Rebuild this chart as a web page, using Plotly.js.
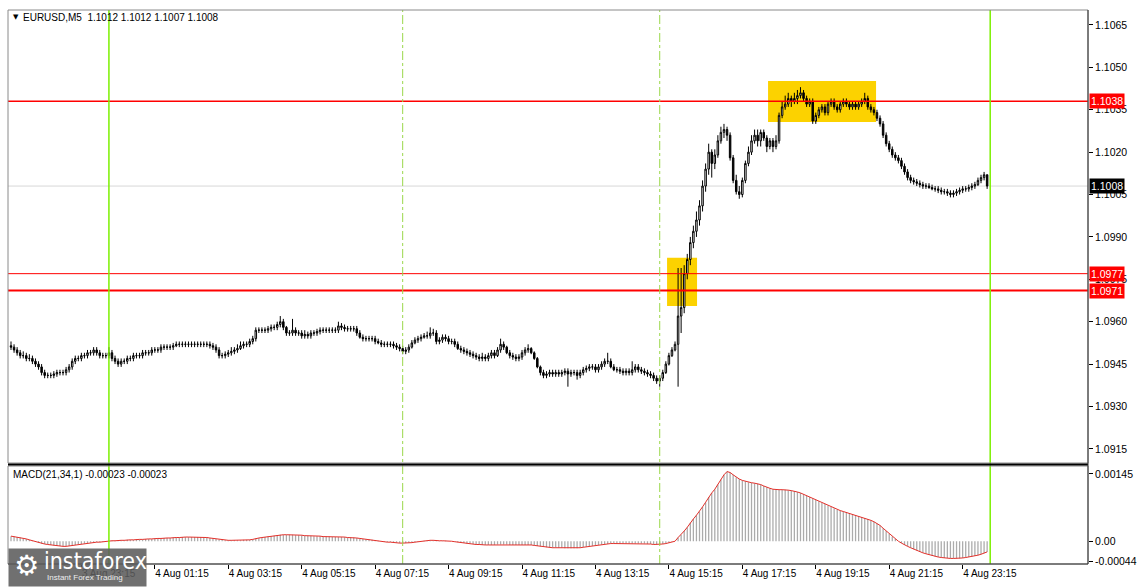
<!DOCTYPE html>
<html><head><meta charset="utf-8">
<script src="https://cdn.plot.ly/plotly-3.0.1.min.js"></script>
<style>html,body{margin:0;padding:0;background:#fff;overflow:hidden}#chart{width:1141px;height:587px}</style>
</head><body><div id="chart"></div>
<script>
// Prices stored as pips above BASE (1.0900); one bar = 5 minutes, bar 0 = 3 Aug 21:20
const BASE = 1.09;
const openP = [
51.5,51,50,49,48,48,47,47,46,45,
44,42,41,41,41,41.5,42,42,42,43,
44,46,47,47,48,48,49,49,50,49,
48,48,48,49,47,46,45,46,46,47,
47,48,48,48,49,49,49,50,50,50,
51,51,51,51,51.5,52,52,52,52,52,
52,52,52,52,52,52,51.5,51,50,48,
48,48.5,49,49.5,50,50.5,51.5,52,52,53,
54,57,57,57,57,57.5,58,58,59,60,
58,56,56,57,56,56,55,55.5,55,56,
56,56.5,57,57,57,57,57,57,58.5,58,
57.5,57.5,57.5,57.5,56,54.5,54,54,54,54,
53,52.5,52,52,52,52,51.5,51,50.5,49.5,
50,51,52.5,53.5,54,54.5,55,55,56,56,
53,53.5,54.5,54,53,53,52,50.5,50,49.5,
49,48.5,48,47.5,47,47.5,47,48,49,48,
50,52,51,49,48,47.5,47,47.5,49,50,
50.5,49,47,44,42,41,41.5,42,41.5,42,
41.5,42,42.5,41.5,42,42,41,42,43,43.5,
44,44,43,44,45,46,46,44,43,43,
42.5,42,42.5,42,43,44,43,42.5,42,41.5,
41,40,39,40,42,45,48,50,52,62,
65,77,82,88,92,96,101,108,114,120,
116,119,124,127,128,126,118,110,106,105,
110,116,120,124,126,124,127,125,122,124,
122,124,133,136,137,139,138,139,140,141,
139,137,138,131,133,135,136,134,137,138,
136,135,137,138,137,136,137,136,137,138,
139,136,135,134,132,130,126,123,121,119,
118,117,115,113,111,110,109.5,109,108.5,108,
108,107.5,107,107,106.5,106,106,105.5,105,105.5,
106,106.5,107,107,107.5,108,108.5,110,111,112
];
const highP = [
53,52,51,50,49.5,49,48.5,48,47,46,
45,43,42,42,42.5,43,43,43,44,45,
47,48,48,49,49,50,50,51,51,50,
49,49,51,50,48,47,47,47,48,48,
49,49,49,50,50,50,51,51,51,52,
52,52,52,52.5,53,53,53,53,53,53,
53,53,53,53,53,53,52.5,52,51,49,
49.5,50,51,51,52,53,53,53,54,55,
58,58,58,58,58.5,59,59,60,62,61,
58.5,57,61,58,57,57,57,56.5,57,57,
57.5,58,58,58,58,58,58,60,59.5,59,
58.5,58.5,58.5,58.5,57,55.5,55,55,55,55,
54,53.5,53,53,53,53,52.5,52,51.5,51,
52,53.5,54.5,55,55.5,56,56.5,58,57.5,57,
54.5,55.5,55.5,55,54,54,53,51.5,51,50.5,
50,49.5,49,48.5,49,48.5,49,50,50,51,
54,53,51.5,50,49,48.5,48.5,50,51,52,
51,49.5,47.5,44.5,43,42.5,43,43,43,43,
43,43.5,43.5,43,43,43,43,44,44.5,45,
45,45,45,46,47,49,47,45,44,44,
43.5,43.5,43.5,46,45,45,44,43.5,43,42.5,
42,41,41,43,46,49,51,53,79,79,
80,84,90,94,99,103,110,116,123,121,
121,126,129,130,129,127,119,112,108,111,
117,122,126,128,128,128,128,126,125,125,
126,134,138,140,141,140,141,142,143,142,
140,139,139,134,136,137,137,138,139,139,
137,138,139,139,138,138,138,138,139,141,
140,137,136,135,133,131,127,124,122,120,
119,118,116,114,112,111,110.5,110,109.5,109,
109,108.5,108,108,107.5,107,107,106.5,106.5,107,
107.5,108,108,108.5,109,109.5,111,112,113,112
];
const lowP = [
50,49,48,47,47,46,46,45,44,43,
41,40,40,40,40,40.5,41,41,41,42,
43,45,46,46,47,47,48,48,48,47,
47,47,47,46,45,44,44,45,45,46,
46,47,47,47,48,48,48,49,49,49,
50,50,50,50,51,51,51,51,51,51,
51,51,51,51,51,50.5,50,49,47,47,
47,47.5,48,48.5,49,50,50.5,51,51,52,
53,56,56,56,56,56.5,57,57,58,57,
55,55,55,55,55,54,54,54,54,55,
55,55.5,56,56,56,56,56,56,57,56.5,
56.5,56.5,56.5,55,54,53,53,53,53,52,
52,51,51,51,51,50.5,50,49.5,48.5,48.5,
49,50.5,52,52.5,53,54,54,54,55,52,
52,52.5,53,52,52,51,50,49,48.5,48,
47.5,47,46.5,46,46,46,46,47,47,47.5,
49,50,48.5,47,46.5,46,46,46.5,48,49,
48.5,46.5,43.5,41,40,40,40.5,40.5,40.5,40.5,
40.5,41,37,40.5,41,39.5,40,41,42,42.5,
43,42,42,43,44,45,43.5,42.5,42,41.5,
41,41,41,41,42,42,41.5,41,40.5,40,
39,38,37,39,41.5,44.5,47.5,49.5,37,56,
63,75,80,86,90,94,99,106,112,111,
114,118,123,125,124,117,109,105,103.5,104,
109,115,119,123,122,122,124,120,121,120,
121,123,132,135,136,136,137,137,139,138,
136,136,130,130,132,134,133,133,136,135,
134,134,136,136,135,135,135,135,136,137,
135,134,133,131,129,125,122,120,118,117,
116,114,112,110,109,108.5,108,107.5,107,107,
107,106.5,106,105.5,105,105,104.5,104,104,104.5,
105,105.5,106,106,106.5,107,108,109,110,107
];
const closeP = [
51,50,49,48,48,47,47,46,45,44,
42,41,41,41,41.5,42,42,42,43,44,
46,47,47,48,48,49,49,50,49,48,
48,48,49,47,46,45,46,46,47,47,
48,48,48,49,49,49,50,50,50,51,
51,51,51,51.5,52,52,52,52,52,52,
52,52,52,52,52,51.5,51,50,48,48,
48.5,49,49.5,50,50.5,51.5,52,52,53,54,
57,57,57,57,57.5,58,58,59,60,58,
56,56,57,56,56,55,55.5,55,56,56,
56.5,57,57,57,57,57,57,58.5,58,57.5,
57.5,57.5,57.5,56,54.5,54,54,54,54,53,
52.5,52,52,52,52,51.5,51,50.5,49.5,50,
51,52.5,53.5,54,54.5,55,55,56,56,53,
53.5,54.5,54,53,53,52,50.5,50,49.5,49,
48.5,48,47.5,47,47.5,47,48,49,48,50,
52,51,49,48,47.5,47,47.5,49,50,50.5,
49,47,44,42,41,41.5,42,41.5,42,41.5,
42,42.5,41.5,42,42,41,42,43,43.5,44,
44,43,44,45,46,46,44,43,43,42.5,
42,42.5,42,43,44,43,42.5,42,41.5,41,
40,39,40,42,45,48,50,52,62,65,
77,82,88,92,96,101,108,114,120,116,
119,124,127,128,126,118,110,106,105,110,
116,120,124,126,124,127,125,122,124,122,
124,133,136,137,139,138,139,140,141,139,
137,138,131,133,135,136,134,137,138,136,
135,137,138,137,136,137,136,137,138,139,
136,135,134,132,130,126,123,121,119,118,
117,115,113,111,110,109.5,109,108.5,108,108,
107.5,107,107,106.5,106,106,105.5,105,105.5,106,
106.5,107,107,107.5,108,108.5,110,111,112,108
];
// MACD(21,34,1) main values in units of 0.00001 (signal = SMA(1) = same values)
const macdU = [
11,10,9,8,6,5,3,1,
-1,-3,-5,-6,-7,-8,-9,-10,-10,-11,-11,
-10,-9,-8,-7,-6,-5,-4,-3,-3,-2,-2,
-1,0,1,1,1,2,2,2,3,3,3,
4,4,4,5,5,5,6,6,6,7,7,7,8,8,8,9,9,9,9,
9,9,9,8,8,7,6,5,4,3,2,2,2,
2,2,2,3,3,3,4,
6,7,8,9,10,11,12,13,14,14,14,
14,14,13,13,13,12,12,12,11,11,11,10,10,10,9,
9,9,9,9,8,8,8,7,6,5,4,
4,3,2,1,0,-1,-2,-2,-3,-3,-4,-4,
-4,-3,-3,-2,-1,0,1,1,2,2,1,1,
1,1,0,0,-1,-2,-3,-4,-5,-5,-6,-7,-7,-8,-8,
-8,-8,-8,-7,-7,-7,-7,-8,-8,-8,-8,-8,-8,-8,-8,-9,
-10,-11,-12,-13,-13,-14,-14,-14,-14,-15,-15,-15,-15,-15,-14,
-13,-12,-11,-10,-9,-8,-7,-6,-6,
-5,-5,-5,-5,-5,-5,-5,-5,-5,-5,-5,-5,-6,-6,-7,-7,
-7,-6,-5,-3,-1,0,
8,14,22,30,40,48,56,64,74,84,95,104,112,
122,133,143,150,148,143,138,134,
131,129,127,126,125,124,122,119,116,114,112,111,
111,111,111,110,109,108,106,104,101,98,
95,92,89,86,83,80,77,74,71,68,66,64,
62,60,58,56,54,52,50,48,45,42,38,34,
28,22,16,10,5,0,-4,-8,-11,-14,
-17,-20,-23,-25,-27,-29,-31,-33,-34,-35,-36,-36,-37,
-37,-37,-37,-36,-35,-34,-33,-32,-30,-28,-26,-23
];
const timeTickBars = [23,47,71,95,119,143,167,191,215,239,263,287,311];
const timeTickLabels = ['3 Aug 23:15','4 Aug 01:15','4 Aug 03:15','4 Aug 05:15','4 Aug 07:15','4 Aug 09:15','4 Aug 11:15','4 Aug 13:15','4 Aug 15:15','4 Aug 17:15','4 Aug 19:15','4 Aug 21:15','4 Aug 23:15'];
const priceTicks = [1.0915,1.0930,1.0945,1.0960,1.0975,1.0990,1.1005,1.1020,1.1035,1.1050,1.1065];
const macdTicks = [0.00145,0,-0.00044];
const macdTickLabels = ['0.00145','0.00','-0.00044'];
const redLevels = [1.1038,1.0977,1.0971];
const redLevelWidths = [1.5,1,2];
const bidLevel = 1.1008;
const daySeparators = [32,320];      // 00:00 bars
const sessionLines = [128,212];      // 08:00 and 15:00 bars
const zones = [[214.4,224.2,1.09656,1.09826],[247.4,282.7,1.10307,1.10452]];

const toP = a => a.map(v => +(BASE + v/10000).toFixed(5));
const O = toP(openP), H = toP(highP), L = toP(lowP), C = toP(closeP);
const macd = macdU.map(v => v/100000);
const idx = closeP.map((_, i) => i);
const n = closeP.length;

const W = 1141, Hh = 587;
const fx = px => px / W, fy = py => 1 - py / Hh;
const XL = fx(8), XR = fx(1088);
const XRANGE = [-0.98, 351.96];
const FONT = 'Liberation Sans, Arial, sans-serif';

const traces = [
  {type:'candlestick', x: idx, open: O, high: H, low: L, close: C, xaxis:'x', yaxis:'y',
   increasing:{line:{color:'#000', width:1}, fillcolor:'#ffffff'},
   decreasing:{line:{color:'#000', width:1}, fillcolor:'#000000'},
   whiskerwidth:0, hoverinfo:'skip', showlegend:false},
  {type:'bar', x: idx, y: macd, xaxis:'x2', yaxis:'y2', width:0.42,
   marker:{color:'#ababab', line:{width:0}}, hoverinfo:'skip', showlegend:false},
  {type:'scatter', mode:'lines', x: idx, y: macd, xaxis:'x2', yaxis:'y2',
   line:{color:'#e3302a', width:1}, hoverinfo:'skip', showlegend:false}
];

const shapes = [];
zones.forEach(z => shapes.push({type:'rect', xref:'x', yref:'y', x0:z[0], x1:z[1], y0:z[2], y1:z[3],
  fillcolor:'#fcd200', line:{width:0}, layer:'below'}));
shapes.push({type:'line', xref:'paper', yref:'y', x0:XL, x1:XR, y0:bidLevel, y1:bidLevel,
  line:{color:'#d8d8d8', width:1}, layer:'below'});
redLevels.forEach((v,i) => shapes.push({type:'line', xref:'paper', yref:'y', x0:XL, x1:XR, y0:v, y1:v,
  line:{color:'#ff0000', width:redLevelWidths[i]}, layer:'above'}));
daySeparators.forEach(b => shapes.push({type:'line', xref:'x', yref:'paper', x0:b, x1:b, y0:fy(564), y1:fy(10),
  line:{color:'#7cf000', width:1.5}, layer:'above'}));
sessionLines.forEach(b => shapes.push({type:'line', xref:'x', yref:'paper', x0:b, x1:b, y0:fy(564), y1:fy(10),
  line:{color:'#9ad84a', width:1, dash:'dashdot'}, layer:'above'}));
// pane frames
shapes.push({type:'rect', xref:'paper', yref:'paper', x0:XL, x1:XR, y0:fy(463), y1:fy(10), line:{color:'#8a8a8a', width:1}, fillcolor:'rgba(0,0,0,0)', layer:'above'});
shapes.push({type:'rect', xref:'paper', yref:'paper', x0:XL, x1:XR, y0:fy(564), y1:fy(466), line:{color:'#8a8a8a', width:1}, fillcolor:'rgba(0,0,0,0)', layer:'above'});
shapes.push({type:'line', xref:'paper', yref:'paper', x0:XL, x1:XR, y0:fy(464.5), y1:fy(464.5), line:{color:'#000', width:2}, layer:'above'});
shapes.push({type:'line', xref:'paper', yref:'paper', x0:XL, x1:XR, y0:fy(564), y1:fy(564), line:{color:'#333', width:1}, layer:'above'});
shapes.push({type:'line', xref:'paper', yref:'paper', x0:XR, x1:XR, y0:fy(564), y1:fy(10), line:{color:'#333', width:1}, layer:'above'});

const annotations = [];
const lastO = O[n-1].toFixed(4), lastH = H[n-1].toFixed(4), lastL = L[n-1].toFixed(4), lastC = C[n-1].toFixed(4);
annotations.push({xref:'paper', yref:'paper', x:fx(11), y:fy(17), xanchor:'left', yanchor:'middle', showarrow:false,
  text:'\u25BC', font:{family:'DejaVu Sans', size:7, color:'#000'}});
annotations.push({xref:'paper', yref:'paper', x:fx(21), y:fy(17), xanchor:'left', yanchor:'middle', showarrow:false,
  text:'EURUSD,M5  ' + lastO + ' ' + lastH + ' ' + lastL + ' ' + lastC, font:{family:FONT, size:10, color:'#000'}});
const lastM = macd[n-1].toFixed(5);
annotations.push({xref:'paper', yref:'paper', x:fx(11), y:fy(474), xanchor:'left', yanchor:'middle', showarrow:false,
  text:'MACD(21,34,1) ' + lastM + ' ' + lastM, font:{family:FONT, size:10, color:'#000'}});
// price labels on the axis
redLevels.forEach(v => annotations.push({xref:'paper', yref:'y', x:fx(1089), y:v, xanchor:'left', yanchor:'middle', showarrow:false,
  text:v.toFixed(4), bgcolor:'#ff0000', borderpad:1, font:{family:FONT, size:10.5, color:'#fff'}}));
annotations.push({xref:'paper', yref:'y', x:fx(1089), y:bidLevel, xanchor:'left', yanchor:'middle', showarrow:false,
  text:bidLevel.toFixed(4), bgcolor:'#000', borderpad:1, font:{family:FONT, size:10.5, color:'#fff'}});
// instaforex watermark
annotations.push({xref:'paper', yref:'paper', x:fx(8), y:fy(548), xanchor:'left', yanchor:'top', showarrow:false,
  text:' ', width:135, height:35, bgcolor:'rgba(92,92,92,0.88)'});
annotations.push({xref:'paper', yref:'paper', x:fx(26), y:fy(565), xanchor:'center', yanchor:'middle', showarrow:false,
  text:'\u2699', font:{family:'DejaVu Sans', size:28, color:'#fff'}});
annotations.push({xref:'paper', yref:'paper', x:fx(42), y:fy(561), xanchor:'left', yanchor:'middle', showarrow:false,
  text:'instaforex', font:{family:'Liberation Sans Narrow, DejaVu Sans Condensed, Open Sans, sans-serif', size:23, color:'#fff'}});
annotations.push({xref:'paper', yref:'paper', x:fx(45), y:fy(577), xanchor:'left', yanchor:'middle', showarrow:false,
  text:'Instant Forex Trading', font:{family:FONT, size:8, color:'#eee'}});

const tickFont = {family:FONT, size:10.5, color:'#000'};
const layout = {
  width:W, height:Hh, margin:{l:0,r:0,t:0,b:0},
  paper_bgcolor:'#fff', plot_bgcolor:'#fff', showlegend:false, dragmode:false,
  xaxis:{domain:[XL,XR], range:XRANGE, anchor:'y', showticklabels:false, showgrid:false, zeroline:false,
    ticks:'', rangeslider:{visible:false}, fixedrange:true, showline:false},
  yaxis:{domain:[fy(463), fy(10)], range:[1.0910,1.10703], anchor:'x', side:'right', tickmode:'array',
    tickvals:priceTicks, ticktext:priceTicks.map(v => v.toFixed(4)), ticks:'outside', ticklen:4, tickcolor:'#000',
    tickfont:tickFont, showgrid:false, zeroline:false, showline:false, fixedrange:true},
  xaxis2:{domain:[XL,XR], range:XRANGE, anchor:'y2', tickmode:'array', tickvals:timeTickBars, ticktext:timeTickLabels,
    ticks:'outside', ticklen:4, tickcolor:'#000', ticklabelposition:'outside right', tickfont:{family:FONT, size:10, color:'#000'},
    showgrid:false, zeroline:false, showline:false, fixedrange:true},
  yaxis2:{domain:[fy(564), fy(466)], range:[-0.00049,0.00162], anchor:'x2', side:'right', tickmode:'array',
    tickvals:macdTicks, ticktext:macdTickLabels, ticks:'outside', ticklen:4, tickcolor:'#000', tickfont:tickFont,
    showgrid:false, zeroline:false, showline:false, fixedrange:true},
  shapes: shapes, annotations: annotations
};
Plotly.newPlot('chart', traces, layout, {staticPlot:true, displayModeBar:false});
</script></body></html>
